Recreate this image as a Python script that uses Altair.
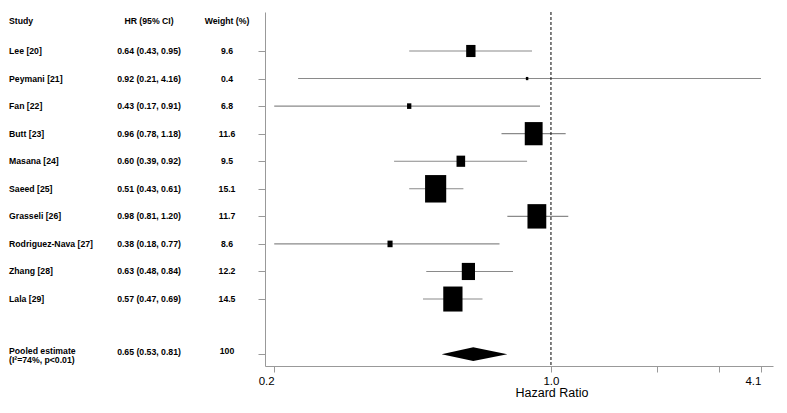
import altair as alt
import pandas as pd
import numpy as np

# ---------------- data ----------------
studies = ["Lee [20]", "Peymani [21]", "Fan [22]", "Butt [23]", "Masana [24]",
           "Saeed [25]", "Grasseli [26]", "Rodriguez-Nava [27]", "Zhang [28]", "Lala [29]"]
hr = [0.64, 0.92, 0.43, 0.96, 0.60, 0.51, 0.98, 0.38, 0.63, 0.57]
# confidence limits as drawn in the picture
ci_low = [0.43, 0.21, 0.18, 0.78, 0.39, 0.43, 0.81, 0.18, 0.48, 0.47]
ci_high = [0.95, 4.16, 1.00, 1.18, 0.92, 0.61, 1.20, 0.77, 0.84, 0.69]
hr_labels = ["0.64 (0.43, 0.95)", "0.92 (0.21, 4.16)", "0.43 (0.17, 0.91)",
             "0.96 (0.78, 1.18)", "0.60 (0.39, 0.92)", "0.51 (0.43, 0.61)",
             "0.98 (0.81, 1.20)", "0.38 (0.18, 0.77)", "0.63 (0.48, 0.84)",
             "0.57 (0.47, 0.69)"]
weight_labels = ["9.6", "0.4", "6.8", "11.6", "9.5", "15.1", "11.7", "8.6", "12.2", "14.5"]

pooled_name = "Pooled estimate\n(I²=74%, p<0.01)"
pooled_hr = 0.65
pooled_low = 0.53
pooled_high = 0.81
pooled_hr_label = "0.65 (0.53, 0.81)"
pooled_weight_label = "100"

headers = ["Study", "HR (95% CI)", "Weight (%)"]

end_ticks = [0.18, 4.16]
end_tick_labels = ["0.2", "4.1"]
mid_ticks = [1, 2, 3]
mid_tick_labels = ["1.0", "", ""]

rows = list(range(1, 11))
pooled_row = 12

# ---------------- styling ----------------
FONT = "Liberation Sans"
GRAY = "#999999"
LINE_GRAY = "#8a8a8a"
TXT = 8.7

df = pd.DataFrame(dict(study=studies, hr=hr, lo=ci_low, hi=ci_high,
                       hr_label=hr_labels, weight=weight_labels, row=rows))
se = (np.log(df["hi"]) - np.log(df["lo"])) / (2 * 1.96)
df["inv_var"] = 1.0 / se ** 2
max_iv = float(df["inv_var"].max())

pooled_df = pd.DataFrame(dict(name=[pooled_name], hr_label=[pooled_hr_label],
                              weight=[pooled_weight_label], row=[pooled_row]))
half = 0.25
diamond_df = pd.DataFrame(dict(x=[pooled_low, pooled_hr, pooled_high],
                               y=[pooled_row, pooled_row - half, pooled_row],
                               y2=[pooled_row, pooled_row + half, pooled_row]))


def label_expr(vals, labs):
    parts = [f"abs(datum.value - {v}) < 1e-6 ? '{l}'" for v, l in zip(vals, labs)]
    return " : ".join(parts) + " : ''"


scale_A = alt.Scale(type="log", domain=[0.1696, 4.496], nice=False)
scale_B = alt.Scale(type="log", domain=[0.1543, 4.268], nice=False)
y_scale = alt.Scale(domain=[-0.415, 12.43], reverse=True, nice=False, zero=False)

axis_A = alt.Axis(orient="bottom", values=end_ticks, labelExpr=label_expr(end_ticks, end_tick_labels),
                  labelAlign="right", labelBaseline="alphabetic", labelPadding=12,
                  labelFontSize=11.5, tickSize=6, tickColor=GRAY, domainColor=GRAY,
                  grid=False, title=None)
axis_B = alt.Axis(orient="bottom", values=mid_ticks, labelExpr=label_expr(mid_ticks, mid_tick_labels),
                  labelAlign="center", labelBaseline="alphabetic", labelPadding=12,
                  labelFontSize=11.5, tickSize=6, tickColor=GRAY, domain=False,
                  grid=False, title="Hazard Ratio", titleFontSize=12.5, titleFontWeight="normal",
                  titleX=286.5, titleY=30.5, titleBaseline="alphabetic", titleAlign="center",
                  titleAnchor="start")
y_axis = alt.Axis(values=rows + [pooled_row], labels=False, ticks=True, tickSize=7,
                  tickColor=GRAY, domainColor=GRAY, grid=False, title=None)

ci = alt.Chart(df).mark_rule(color=LINE_GRAY, strokeWidth=1.1).encode(
    x=alt.X("lo:Q", scale=scale_A, axis=axis_A),
    x2="hi:Q",
    y=alt.Y("row:Q", scale=y_scale, axis=y_axis),
)

RECT = "M-0.77,-1L0.77,-1L0.77,1L-0.77,1Z"
boxes = alt.Chart(df).mark_point(shape=RECT, filled=True, color="black", opacity=1, strokeWidth=0).encode(
    x=alt.X("hr:Q", scale=scale_A, axis=axis_A),
    y=alt.Y("row:Q", scale=y_scale, axis=y_axis),
    size=alt.Size("inv_var:Q", scale=alt.Scale(type="linear", domain=[0, max_iv], range=[0, 6.0 * max_iv]),
                  legend=None),
)

diamond = alt.Chart(diamond_df).mark_area(orient="vertical", color="black", opacity=1).encode(
    x=alt.X("x:Q", scale=scale_A, axis=axis_A),
    y=alt.Y("y:Q", scale=y_scale, axis=y_axis),
    y2="y2:Q",
)


def col_text(data, field, xpx, align, dy=0):
    return alt.Chart(data).mark_text(align=align, baseline="middle", font=FONT, fontSize=TXT,
                                     fontWeight="bold", color="black", dy=dy, lineBreak="\n",
                                     lineHeight=9).encode(
        x=alt.value(xpx),
        y=alt.Y("row:Q", scale=y_scale, axis=y_axis),
        text=f"{field}:N",
    )


study_txt = col_text(df, "study", -256, "left")
hr_txt = col_text(df, "hr_label", -116, "center")
w_txt = col_text(df, "weight", -38, "center")
p_name = col_text(pooled_df, "name", -256, "left", dy=-3)
p_hr = col_text(pooled_df, "hr_label", -116, "center", dy=-2)
p_w = col_text(pooled_df, "weight", -38, "center", dy=-3)

header_layers = []
for h, xpx, al in zip(headers, [-256, -116, -38], ["left", "center", "center"]):
    header_layers.append(
        alt.Chart(pd.DataFrame({"t": [h]})).mark_text(
            align=al, baseline="middle", font=FONT, fontSize=TXT, fontWeight="bold", color="black"
        ).encode(x=alt.value(xpx), y=alt.value(9), text="t:N")
    )

inner = alt.layer(ci, boxes, diamond, study_txt, hr_txt, w_txt, p_name, p_hr, p_w, *header_layers)

ref = alt.Chart(pd.DataFrame({"x": [1.0]})).mark_rule(color="black", strokeDash=[3, 2], strokeWidth=1).encode(
    x=alt.X("x:Q", scale=scale_B, axis=axis_B)
)

chart = alt.layer(inner, ref).resolve_scale(x="independent").properties(
    width=508, height=354,
    autosize=alt.AutoSizeParams(type="none"),
    padding={"left": 257, "top": 4, "right": 6, "bottom": 40},
).configure_view(strokeWidth=0).configure_axis(
    labelFont=FONT, titleFont=FONT, labelColor="black", titleColor="black"
)

chart.save("out.html", embed_options={"renderer": "svg", "actions": False})
